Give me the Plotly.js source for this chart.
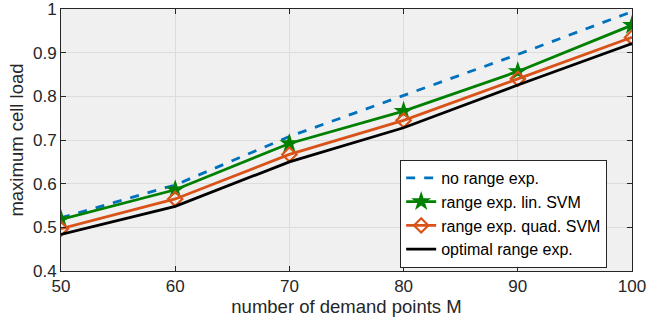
<!DOCTYPE html>
<html>
<head>
<meta charset="utf-8">
<script src="https://cdn.plot.ly/plotly-3.0.1.min.js"></script>
<style>html,body{margin:0;padding:0;background:#fff;}#plot{width:646px;height:333px;}</style>
</head>
<body>
<div id="plot"></div>
<script>
const demandPoints = [50, 60, 70, 80, 90, 100];
const noRangeExp = [0.522, 0.597, 0.708, 0.802, 0.896, 0.994];
const linSVM = [0.518, 0.586, 0.692, 0.766, 0.857, 0.963];
const quadSVM = [0.497, 0.565, 0.667, 0.745, 0.840, 0.935];
const optimal = [0.484, 0.548, 0.650, 0.728, 0.826, 0.921];
const seriesNames = ["no range exp.", "range exp. lin. SVM", "range exp. quad. SVM", "optimal range exp."];
const yTicks = [0.4, 0.5, 0.6, 0.7, 0.8, 0.9, 1];
const yTickLabels = ["0.4", "0.5", "0.6", "0.7", "0.8", "0.9", "1"];
const xTicks = [50, 60, 70, 80, 90, 100];

const font = "Liberation Sans, Arial, Helvetica, sans-serif";
const traces = [
  {x: demandPoints, y: noRangeExp, name: seriesNames[0], mode: "lines",
   line: {color: "#0072BD", width: 2.8, dash: "dash"}},
  {x: demandPoints, y: linSVM, name: seriesNames[1], mode: "lines+markers",
   line: {color: "#008000", width: 2.8},
   marker: {symbol: "star", size: 15, color: "#008000"}},
  {x: demandPoints, y: quadSVM, name: seriesNames[2], mode: "lines+markers",
   line: {color: "#D95319", width: 2.8},
   marker: {symbol: "diamond-open", size: 11, color: "#D95319", line: {width: 2.2, color: "#D95319"}}},
  {x: demandPoints, y: optimal, name: seriesNames[3], mode: "lines",
   line: {color: "#000000", width: 2.8}}
];

const axisCommon = {
  showline: true, linecolor: "#262626", linewidth: 1, mirror: "ticks",
  ticks: "inside", ticklen: 5, tickcolor: "#262626",
  showgrid: true, gridcolor: "#dcdcdc", gridwidth: 1, zeroline: false,
  ticklabeloverflow: "allow",
  tickfont: {family: font, size: 17, color: "#262626"}
};

const layout = {
  width: 646, height: 333,
  margin: {l: 61, r: 14, t: 9, b: 62},
  paper_bgcolor: "#ffffff", plot_bgcolor: "#f0f0f0",
  font: {family: font, color: "#262626"},
  showlegend: true,
  legend: {x: 0.594, y: 0.424, xanchor: "left", yanchor: "top",
    bgcolor: "#ffffff", bordercolor: "#262626", borderwidth: 1,
    font: {family: font, size: 16, color: "#000"}, tracegroupgap: 0},
  xaxis: Object.assign({}, axisCommon, {
    range: [50, 100], tickvals: xTicks,
    title: {text: "number of demand points M", font: {family: font, size: 18.5, color: "#262626"}, standoff: 4}
  }),
  yaxis: Object.assign({}, axisCommon, {
    range: [0.4, 1], tickvals: yTicks, ticktext: yTickLabels,
    title: {text: "maximum cell load", font: {family: font, size: 18.5, color: "#262626"}, standoff: 4}
  })
};

Plotly.newPlot("plot", traces, layout, {staticPlot: true, displayModeBar: false});
</script>
</body>
</html>
